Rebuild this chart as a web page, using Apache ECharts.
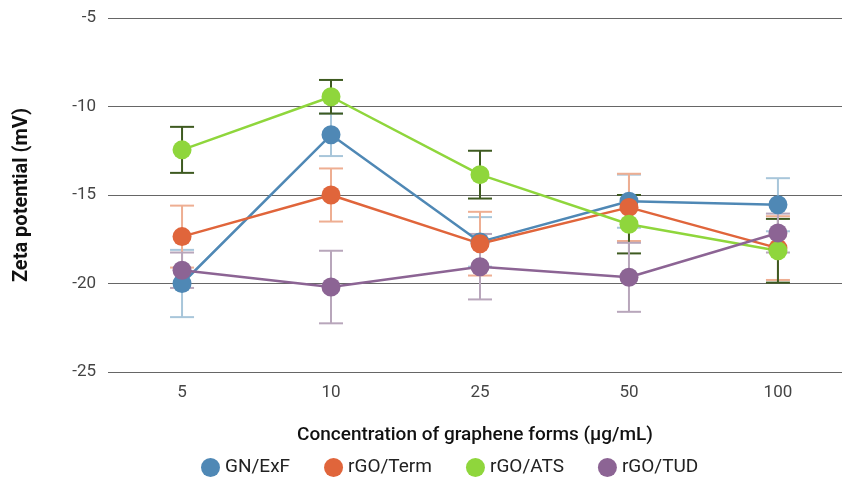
<!DOCTYPE html>
<html>
<head>
<meta charset="utf-8">
<script src="https://cdn.jsdelivr.net/npm/echarts@6/dist/echarts.min.js"></script>
<style>
    html, body { margin: 0; padding: 0; background: #fff; }
    #chart { width: 842px; height: 477px; }
</style>
</head>
<body>
<div id="chart"></div>
<script>
    // concentrations (µg/mL)
    var categories = ['5', '10', '25', '50', '100'];
    var seriesNames = ['GN/ExF', 'rGO/Term', 'rGO/ATS', 'rGO/TUD'];

    // zeta potential (mV)
    var gnExf  = [-20.0, -11.6, -17.65, -15.35, -15.55];
    var rgoTerm = [-17.35, -15.0, -17.75, -15.7, -18.0];
    var rgoAts = [-12.45, -9.45, -13.85, -16.65, -18.15];
    var rgoTud = [-19.25, -20.2, -19.05, -19.65, -17.15];

    // error (± mV)
    var gnExfErr  = [1.9, 1.2, 1.4, 1.5, 1.5];
    var rgoTermErr = [1.75, 1.5, 1.8, 1.9, 1.8];
    var rgoAtsErr = [1.3, 0.95, 1.35, 1.65, 1.8];
    var rgoTudErr = [1.0, 2.05, 1.85, 1.95, 1.1];

    var colors = ['#4f88b5', '#e0653b', '#8fd63c', '#8c6494'];
    var errColors = ['#a8c6da', '#eeae92', '#3e5a20', '#b8a6bb'];

    var values = [gnExf, rgoTerm, rgoAts, rgoTud];
    var errors = [gnExfErr, rgoTermErr, rgoAtsErr, rgoTudErr];

    var chart = echarts.init(document.getElementById('chart'));

    var series = [];
    // error bars first so the markers sit on top
    values.forEach(function (vals, s) {
        var data = vals.map(function (v, i) {
            return [i, v - errors[s][i], v + errors[s][i]];
        });
        series.push({
            type: 'custom',
            name: seriesNames[s] + ' err',
            z: 1,
            silent: true,
            data: data,
            renderItem: function (params, api) {
                var x = api.value(0);
                var lo = api.coord([x, api.value(1)]);
                var hi = api.coord([x, api.value(2)]);
                var w = 12;
                var st = { stroke: errColors[s], lineWidth: 2 };
                return {
                    type: 'group',
                    children: [
                        { type: 'line', shape: { x1: lo[0], y1: lo[1], x2: hi[0], y2: hi[1] }, style: st },
                        { type: 'line', shape: { x1: lo[0] - w, y1: lo[1], x2: lo[0] + w, y2: lo[1] }, style: st },
                        { type: 'line', shape: { x1: hi[0] - w, y1: hi[1], x2: hi[0] + w, y2: hi[1] }, style: st }
                    ]
                };
            }
        });
    });
    values.forEach(function (vals, s) {
        series.push({
            type: 'line',
            name: seriesNames[s],
            z: 3,
            data: vals.map(function (v, i) { return [i, v]; }),
            symbol: 'circle',
            symbolSize: 19,
            lineStyle: { width: 2.5, color: colors[s] },
            itemStyle: { color: colors[s] }
        });
    });

    chart.setOption({
        animation: false,
        textStyle: { fontFamily: 'Roboto' },
        grid: { left: 108, right: 0, top: 18, bottom: 105 },
        legend: {
            data: seriesNames,
            top: 453,
            left: 196,
            icon: 'circle',
            itemWidth: 19,
            itemHeight: 19,
            itemGap: 34,
            textStyle: { fontSize: 19, color: '#222', fontFamily: 'Roboto' }
        },
        xAxis: {
            type: 'value',
            min: -0.497,
            max: 4.43,
            name: 'Concentration of graphene forms (µg/mL)',
            nameLocation: 'middle',
            nameGap: 54,
            nameTextStyle: { fontSize: 19, color: '#111', fontFamily: 'Roboto', fontWeight: 500 },
            axisLine: { show: false },
            axisTick: { show: false },
            splitLine: { show: false },
            axisLabel: {
                customValues: [0, 1, 2, 3, 4],
                fontSize: 17,
                color: '#444',
                margin: 12,
                formatter: function (v) { return categories[Math.round(v)]; }
            }
        },
        yAxis: {
            type: 'value',
            min: -25,
            max: -5,
            interval: 5,
            name: 'Zeta potential (mV)',
            nameLocation: 'middle',
            nameGap: 76,
            nameTextStyle: { fontSize: 20, color: '#111', fontWeight: 'bold', fontFamily: 'Roboto' },
            axisLine: { show: false },
            axisTick: { show: false },
            axisLabel: { fontSize: 17, color: '#444', margin: 12 },
            splitLine: { lineStyle: { color: '#666', width: 1.2 } }
        },
        series: series
    });
</script>
</body>
</html>
